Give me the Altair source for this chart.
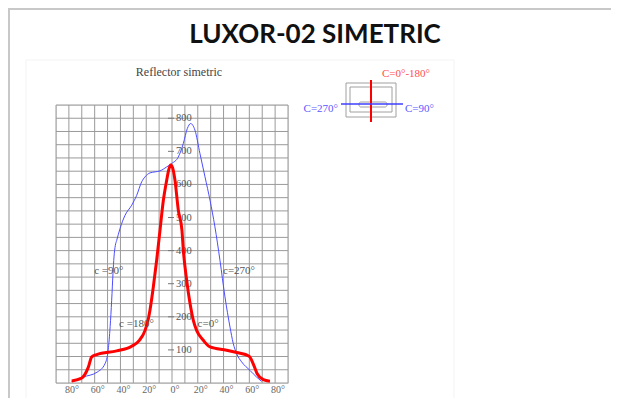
import altair as alt
import pandas as pd

# ---- data ----
blue_angle = [-78, -69, -58, -52, -49.5, -48, -46.8, -45.8, -45, -44, -42.9, -40.3, -36.4, -31.3, -27.4,
              -23.5, -20.9, -17, -13, -9.3, -4.1, -0.3, 4.9, 8.8, 11.9, 14.5, 17.8, 21.7, 25.6, 29.5,
              33.3, 37.2, 41.1, 45, 47.5, 50.1, 54, 60.5, 65.6, 69.5]
blue_value = [5, 18, 33, 58, 100, 170, 250, 330, 381, 415, 431, 467, 507, 537, 567,
              608, 623, 635, 638, 641, 653, 663, 683, 724, 769, 784, 764, 693, 623, 552,
              472, 371, 260, 169, 120, 89, 64, 38, 18, 5]

red_angle = [-77.8, -70, -64.9, -62.3, -58.4, -42.9, -31.3, -25.3, -20.9, -18.3, -17.1, -14.5, -11.9,
             -9.3, -6.7, -4.1, -2.5, -1.0, 0.5, 2.3, 4.9, 7.7, 8.8, 11.4, 14, 16.5, 19.1, 24.3,
             29.5, 42.4, 50.1, 59.9, 63, 66.1, 70.8, 76]
red_value = [6, 15, 48, 79, 86, 97, 111, 129, 159, 195, 220, 290, 371,
             462, 552, 613, 645, 659, 650, 613, 522, 462, 401, 310, 240, 190, 159, 129,
             109, 99, 92, 81, 58, 28, 10, 5]

curve_labels = ["c =90°", "c=270°", "c =180°", "c=0°"]
curve_label_angle = [-49, 52, -27.6, 28]
curve_label_value = [338, 338, 179, 179]

y_tick_values = [100, 200, 300, 400, 500, 600, 700, 800]
x_label_values = [-80, -60, -40, -20, 0, 20, 40, 60, 80]
x_label_texts = ["80°", "60°", "40°", "20°", "0°", "20°", "40°", "60°", "80°"]
x_grid_values = list(range(-90, 91, 10))
y_grid_values = list(range(0, 841, 40))

TITLE = "LUXOR-02 SIMETRIC"
SUBTITLE = "Reflector simetric"
legend_texts = ["C=0°-180°", "C=270°", "C=90°"]

SERIF = "Liberation Serif"

blue_df = pd.DataFrame({"angle": blue_angle, "value": blue_value, "order": range(len(blue_angle))})
red_df = pd.DataFrame({"angle": red_angle, "value": red_value, "order": range(len(red_angle))})
lab_df = pd.DataFrame({"label": curve_labels, "angle": curve_label_angle, "value": curve_label_value})
ytick_df = pd.DataFrame({"value": y_tick_values, "label": [str(v) for v in y_tick_values]})
xlab_df = pd.DataFrame({"angle": x_label_values, "label": x_label_texts})
xgrid_df = pd.DataFrame({"angle": x_grid_values})
ygrid_df = pd.DataFrame({"value": y_grid_values})
one = pd.DataFrame({"a": [0]})

xscale = alt.Scale(domain=[-90, 90], nice=False, zero=False)
yscale = alt.Scale(domain=[0, 840], nice=False, zero=False)
GRID = "#9a9a9a"

xgrid = alt.Chart(xgrid_df).mark_rule(color=GRID, strokeWidth=1).encode(
    x=alt.X("angle:Q", scale=xscale, axis=None))
ygrid = alt.Chart(ygrid_df).mark_rule(color=GRID, strokeWidth=1).encode(
    y=alt.Y("value:Q", scale=yscale, axis=None))

xtext = alt.Chart(xlab_df).mark_text(font=SERIF, fontSize=10, color="#666", align="center",
                                     baseline="middle", dx=3).encode(
    x=alt.X("angle:Q", scale=xscale, axis=None), y=alt.value(285), text="label:N"
)

ticks = alt.Chart(ytick_df).mark_rule(color="#777", strokeWidth=1).encode(
    x=alt.value(112), x2=alt.value(118), y=alt.Y("value:Q", scale=yscale, axis=None)
)
ytext = alt.Chart(ytick_df).mark_text(font=SERIF, fontSize=10.5, color="#555", align="left",
                                      baseline="middle").encode(
    x=alt.value(120), y=alt.Y("value:Q", scale=yscale, axis=None), text="label:N"
)

blue = alt.Chart(blue_df).mark_line(color="#4d4dff", strokeWidth=1, interpolate="monotone").encode(
    x=alt.X("angle:Q", scale=xscale, axis=None), y=alt.Y("value:Q", scale=yscale, axis=None),
    order="order:Q"
)
red = alt.Chart(red_df).mark_line(color="#ff0000", strokeWidth=3, interpolate="monotone").encode(
    x=alt.X("angle:Q", scale=xscale, axis=None), y=alt.Y("value:Q", scale=yscale, axis=None),
    order="order:Q"
)
clabels = alt.Chart(lab_df).mark_text(font=SERIF, fontSize=11, color="#555", baseline="middle").encode(
    x=alt.X("angle:Q", scale=xscale, axis=None), y=alt.Y("value:Q", scale=yscale, axis=None),
    text="label:N"
)

# ---- decorations (pixel positions relative to plot origin) ----
frame_top = alt.Chart(one).mark_rule(color="#c8c8c8", strokeWidth=2).encode(
    x=alt.value(-48), x2=alt.value(560), y=alt.value(-96))
frame_left = alt.Chart(one).mark_rule(color="#c8c8c8", strokeWidth=2).encode(
    x=alt.value(-47), y=alt.value(-97), y2=alt.value(300))
inner_box = alt.Chart(one).mark_rect(fill=None, stroke="#f3f3f3", strokeWidth=1).encode(
    x=alt.value(-30), x2=alt.value(398), y=alt.value(-45), y2=alt.value(320))

title = alt.Chart(pd.DataFrame({"t": [TITLE]})).mark_text(
    font="Lato", fontWeight="bold", fontSize=26, color="#111", align="center", baseline="middle"
).encode(x=alt.value(259), y=alt.value(-70), text="t:N")
subtitle = alt.Chart(pd.DataFrame({"t": [SUBTITLE]})).mark_text(
    font=SERIF, fontSize=12, color="#444", align="center", baseline="middle"
).encode(x=alt.value(123), y=alt.value(-33), text="t:N")

outer_rect = alt.Chart(one).mark_rect(fill=None, stroke="#a0a0a0", strokeWidth=1).encode(
    x=alt.value(290), x2=alt.value(340), y=alt.value(-22), y2=alt.value(12))
mid_rect = alt.Chart(one).mark_rect(fill=None, stroke="#a0a0a0", strokeWidth=1).encode(
    x=alt.value(294), x2=alt.value(336), y=alt.value(-18), y2=alt.value(7))
small_rect = alt.Chart(one).mark_rect(fill=None, stroke="#a0a0a0", strokeWidth=1, cornerRadius=2).encode(
    x=alt.value(303), x2=alt.value(331), y=alt.value(-3), y2=alt.value(2))
vline = alt.Chart(one).mark_rule(color="#ff0000", strokeWidth=2).encode(
    x=alt.value(315), y=alt.value(-25), y2=alt.value(17))
hline = alt.Chart(one).mark_rule(color="#3f3fff", strokeWidth=1.5).encode(
    x=alt.value(285), x2=alt.value(347), y=alt.value(-1))

leg_red = alt.Chart(pd.DataFrame({"t": [legend_texts[0]]})).mark_text(
    font=SERIF, fontSize=11, color="#ff4d4d", align="center", baseline="middle"
).encode(x=alt.value(350), y=alt.value(-31), text="t:N")
leg_left = alt.Chart(pd.DataFrame({"t": [legend_texts[1]]})).mark_text(
    font=SERIF, fontSize=11, color="#5a5aff", align="right", baseline="middle"
).encode(x=alt.value(282), y=alt.value(4), text="t:N")
leg_right = alt.Chart(pd.DataFrame({"t": [legend_texts[2]]})).mark_text(
    font=SERIF, fontSize=11, color="#5a5aff", align="left", baseline="middle"
).encode(x=alt.value(349), y=alt.value(4), text="t:N")

chart = alt.layer(
    inner_box, frame_top, frame_left, xgrid, ygrid, xtext, ticks, ytext, blue, red, clabels,
    title, subtitle, outer_rect, mid_rect, small_rect, vline, hline, leg_red, leg_left, leg_right
).properties(
    width=232, height=278,
    autosize=alt.AutoSizeParams(type="none"),
    padding={"left": 48, "top": 97, "right": 323, "bottom": 15},
).configure_view(stroke="#888", strokeWidth=1).configure(background="white")

chart.save("out.html", embed_options={"renderer": "svg", "actions": False})
